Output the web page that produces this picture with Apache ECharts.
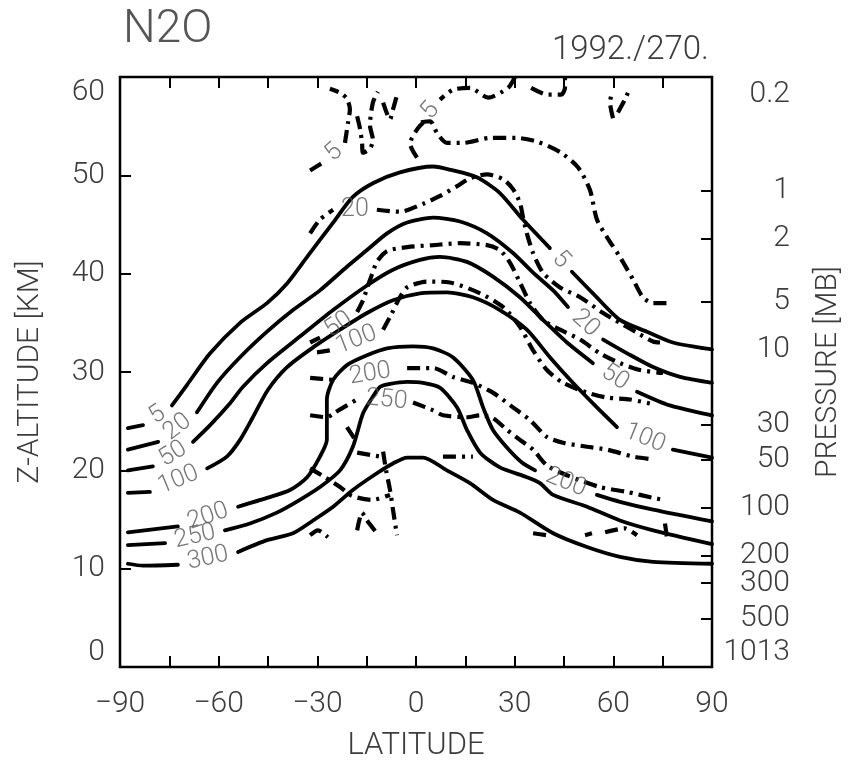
<!DOCTYPE html>
<html>
<head>
<meta charset="utf-8">
<script src="https://cdn.jsdelivr.net/npm/echarts@6/dist/echarts.min.js"></script>
<style>
  html, body { margin: 0; padding: 0; background: #fff; }
  #chart { width: 856px; height: 760px; }
</style>
</head>
<body>
<div id="chart"></div>
<script>
// ---- axes -------------------------------------------------------------
const latLabels = [-90, -60, -30, 0, 30, 60, 90];
const altLabels = [0, 10, 20, 30, 40, 50, 60];
const pressureLabels = [0.2, 1, 2, 5, 10, 30, 50, 100, 200, 300, 500, 1013];
const pressureTicks = [1, 2, 5, 10, 30, 50, 100, 200, 300, 500];
const SCALE_HEIGHT_KM = 7;

// ---- N2O mixing ratio contours, model (solid) --------------------------
// points are [latitude, altitude km]; null marks the gap holding the level label
const solidLevels = ['5', '20', '50', '100', '200', '250', '300'];

const solid5 = [[-87.6, 24.3], [-83.0, 24.6], null, [-74.2, 26.6], [-69.6, 28.7], [-62.6, 31.9],
  [-53.5, 35.0], [-45.3, 37.0], [-39.2, 39.0], [-33.1, 41.7], [-25.2, 45.2], [-19.2, 47.8],
  [-13.1, 49.2], [-4.9, 50.3], [5.2, 50.9], [11.2, 50.5], [18.5, 49.8], [25.5, 48.2],
  [32.5, 45.5], [40.7, 42.6], null, [47.4, 40.2], [53.8, 38.0], [62.0, 35.3], [70.2, 34.1],
  [78.1, 33.0], [90, 32.3]];

const solid20 = [[-87.6, 22.1], [-78.4, 22.9], null, [-66.6, 25.9], [-60.5, 28.9], [-53.5, 31.5],
  [-45.3, 34.1], [-37.4, 36.3], [-29.2, 38.3], [-21.0, 40.7], [-14.9, 42.4], [-8.8, 44.1],
  [-2.7, 45.2], [5.2, 45.7], [13.4, 45.3], [21.6, 44.1], [29.5, 42.1], [35.6, 40.1],
  [41.7, 38.3], [46.2, 36.6], null, [56.9, 33.3], [64.2, 31.9], [72.1, 30.5], [80.3, 29.5],
  [90, 28.9]];

const solid50 = [[-87.6, 20.0], [-80.0, 20.4], null, [-67.8, 22.9], [-62.6, 24.6], [-56.6, 26.8],
  [-52.6, 28.5], [-45.3, 30.9], [-35.3, 33.6], [-25.2, 36.3], [-14.9, 38.8], [-7.0, 40.4],
  [1.2, 41.4], [7.3, 41.7], [15.5, 41.2], [23.4, 39.7], [31.6, 37.6], [38.6, 35.3],
  [45.9, 33.0], [53.8, 30.9], null, [67.2, 28.0], [77.2, 26.6], [90, 25.6]];

const solid100 = [[-87.6, 17.7], [-80.9, 17.8], null, [-63.5, 20.2], [-57.5, 21.4], [-53.5, 23.1],
  [-49.6, 25.4], [-45.0, 28.2], [-39.2, 30.5], [-31.3, 32.5], [-23.1, 34.3], [-14.9, 36.0],
  [-7.0, 37.3], [1.2, 38.0], [9.4, 38.1], [17.3, 37.6], [25.5, 36.3], [33.7, 34.3],
  [40.7, 31.5], [47.7, 28.9], [55.0, 26.4], [61.1, 24.4], null, [78.1, 22.1], [90, 21.3]];

const solid200 = [[-87.6, 13.7], [-72.4, 14.3], null, [-54.1, 16.3], [-45.3, 17.2], [-38.3, 18.0],
  [-33.1, 19.3], [-29.2, 21.4], [-27.1, 23.1], [-27.1, 27.2], [-25.2, 29.2], [-21.0, 30.7],
  [-14.9, 31.7], [-8.8, 32.4], [-0.9, 32.6], [5.2, 32.4], [11.2, 31.5], [17.3, 29.2],
  [20.4, 26.4], [23.4, 24.1], [27.7, 22.3], [32.2, 20.8], [36.2, 20.0], null, [55.0, 17.5],
  [62.0, 16.8], [72.1, 16.0], [90, 14.8]];

const solid250 = [[-87.6, 12.4], [-76.3, 12.6], null, [-58.1, 13.9], [-50.5, 14.6], [-42.3, 15.7],
  [-35.3, 17.0], [-29.2, 18.3], [-23.1, 20.0], [-19.2, 22.4], [-16.1, 25.8], [-13.1, 27.5],
  [-10.9, 28.5], [-7.9, 28.8], [-2.7, 29.0], [2.1, 28.9], [7.3, 28.4], [12.5, 26.4],
  [15.5, 24.1], [19.5, 21.8], [25.5, 20.3], [33.7, 19.3], [37.7, 18.7], [41.7, 17.5],
  [52.0, 16.3], [62.0, 14.9], [72.1, 13.9], [90, 12.5]];

const solid300 = [[-87.6, 10.5], [-83.0, 10.3], [-72.4, 10.4], null, [-54.1, 11.7], [-45.3, 12.9],
  [-37.4, 13.6], [-31.3, 14.9], [-25.2, 16.3], [-19.2, 18.0], [-11.9, 19.7], [-7.0, 20.7],
  [-2.7, 21.3], [2.1, 21.3], [9.4, 20.0], [16.4, 18.7], [23.4, 17.0], [31.6, 15.7],
  [41.7, 13.6], [52.0, 12.2], [62.0, 11.2], [72.1, 10.7], [90, 10.5]];

const solidLines = [solid5, solid20, solid50, solid100, solid200, solid250, solid300];

// ---- N2O contours, measured (dash-dot) --------------------------------
const dash5 = [[30.1, 60.0], [28.0, 58.9], [21.9, 57.9], [16.4, 58.9], [11.2, 58.7], [7.3, 57.7],
  null, [1.5, 55.4], [4.3, 55.5], [6.4, 54.3], [9.4, 53.3], [14.3, 53.3], [22.5, 53.8],
  [30.7, 53.8], [37.1, 53.4], [44.1, 52.3], [49.3, 50.8], [52.9, 48.5], [55.0, 45.5],
  [58.1, 43.7], [62.0, 41.7], [66.0, 39.4], [69.0, 37.6], [72.1, 37.0], [76.3, 37.0]];
const dash5West = [[-32.2, 50.5], [-28.3, 51.3], null, [-21.6, 53.3], [-20.7, 55.3], [-20.1, 56.7],
  [-21.0, 57.8], [-23.1, 58.4], [-26.2, 58.8]];
const dash20 = [[-32.2, 44.1], [-29.2, 45.5], [-25.2, 46.5], null, [-11.9, 46.5], [-4.9, 46.3],
  [2.1, 47.1], [7.3, 47.9], [12.5, 48.9], [16.4, 49.7], [21.6, 50.1], [26.5, 49.6], [29.5, 48.6],
  [31.6, 47.2], [32.5, 45.8], [33.7, 44.1], [35.6, 42.1], [38.6, 40.1], [43.8, 38.6],
  [49.9, 37.6], [56.9, 36.0], [62.0, 35.0], [67.2, 34.0], [72.1, 33.1], [74.2, 33.0]];
const dash50 = [[-32.2, 33.0], [-29.2, 33.5], null, [-17.9, 36.1], [-16.1, 37.3], [-14.9, 38.5],
  [-13.4, 39.9], [-11.9, 41.2], [-8.8, 42.3], [-2.7, 42.7], [5.2, 42.9], [13.4, 43.1],
  [21.6, 42.9], [25.5, 42.4], [28.6, 41.1], [31.6, 39.1], [34.7, 37.0], [38.6, 35.3],
  [43.8, 34.3], [49.9, 33.3], [55.9, 31.9], [62.0, 30.9], [68.1, 30.2], [75.1, 29.9]];
const dash100 = [[-30.1, 32.0], [-26.2, 32.2], null, [-10.0, 34.3], [-7.9, 35.6], [-4.9, 37.6],
  [-2.7, 38.6], [3.3, 39.2], [10.3, 39.1], [19.5, 38.0], [26.5, 36.6], [31.6, 34.6],
  [35.6, 32.2], [39.8, 30.2], [44.7, 28.9], [52.0, 27.9], [58.1, 27.4], [65.1, 27.2],
  [71.1, 26.8]];
const dash200 = [[-32.2, 29.4], [-25.2, 29.2], null, [-2.7, 30.4], [5.2, 30.4], [11.2, 29.5],
  [17.3, 28.9], [23.4, 27.9], [29.5, 26.4], [34.7, 25.1], [39.8, 23.4], [44.7, 22.8],
  [52.0, 22.4], [58.1, 22.1], [66.0, 21.4], [72.1, 21.1]];
const dash250 = [[-32.2, 25.6], [-27.1, 25.4], [-24.6, 25.9], [-21.0, 26.6], [-17.0, 27.4], null,
  [-0.9, 26.9], [5.2, 26.1], [8.2, 25.6], [15.5, 25.4], [19.5, 25.6], [23.4, 25.3], [27.7, 24.1],
  [31.6, 23.1], [35.6, 22.1], [39.8, 20.5], [45.9, 19.5], [55.9, 18.3], [64.2, 17.8],
  [72.1, 17.2], [75.1, 17.0]];
const dashLevels = ['5', '5', '20', '50', '100', '200', '250'];
const dashLines = [dash5, dash5West, dash20, dash50, dash100, dash200, dash250];

// unlabelled scraps of the measured field (noisy upper and lower edges)
const dashScraps = [
  [[35.0, 58.9], [40.1, 58.2], [44.1, 58.2], [45.3, 58.9], [45.3, 59.9]],
  [[59.9, 55.8], [59.0, 57.4], [59.6, 58.5]],
  [[61.4, 56.4], [63.5, 57.7], [65.1, 58.9]],
  [[-17.9, 56.0], [-17.0, 54.7], [-16.4, 53.3], [-16.1, 52.3], [-14.0, 52.7], [-13.1, 53.6],
   [-14.0, 55.1], [-13.1, 57.4], [-11.6, 58.5]],
  [[-10.0, 57.4], [-7.9, 55.7], [-7.0, 56.7], [-5.5, 58.5]],
  [[0.3, 51.8], [-1.8, 53.2], [0.6, 54.8], [3.3, 55.7]],
  [[-17.9, 21.8], [-10.9, 21.4]],
  [[8.2, 21.4], [17.3, 21.4]],
  [[-32.2, 20.2], [-27.7, 19.3], [-23.1, 18.3], [-19.5, 17.4], [-13.4, 17.0], [-7.9, 17.5]],
  [[-10.0, 21.9], [-9.1, 20.0], [-7.9, 18.0], [-7.0, 16.0], [-5.8, 13.4]],
  [[-17.9, 13.9], [-16.4, 15.7], [-14.9, 14.9], [-11.9, 13.6]],
  [[-32.2, 13.4], [-29.8, 13.9], [-26.8, 13.2]],
  [[-21.0, 24.4], [-17.9, 22.8]],
  [[35.6, 13.6], [39.8, 13.4]],
  [[51.4, 13.4], [53.5, 13.6]],
  [[57.5, 13.7], [63.5, 14.1], [67.2, 13.4]],
  [[75.7, 14.6], [76.3, 13.2]]
];

// ---- drawing -----------------------------------------------------------
const FONT = 'Roboto';
const INK = '#3c3c3c';
const altOf = p => SCALE_HEIGHT_KM * Math.log(1013 / p);

const chart = echarts.init(document.getElementById('chart'), null, { renderer: 'canvas' });

const solidStyle = { color: '#000', width: 3.8, type: 'solid', cap: 'round', join: 'round' };
const dashStyle = { color: '#000', width: 4.2, type: [13, 6, 3, 6] };

function lineSeries(points, style) {
  return {
    type: 'line',
    data: points.map(p => (p === null ? '-' : p)),
    showSymbol: false,
    symbol: 'none',
    smooth: 0.25,
    connectNulls: false,
    lineStyle: style,
    silent: true,
    animation: false,
    z: 3
  };
}

const series = [];
solidLines.forEach(l => series.push(lineSeries(l, solidStyle)));
dashLines.forEach(l => series.push(lineSeries(l, dashStyle)));
dashScraps.forEach(l => series.push(lineSeries(l, dashStyle)));

const axisLabelFont = { fontFamily: FONT, fontWeight: 300, fontSize: 30, color: INK };
const tickStyle = { inside: true, length: 11, lineStyle: { color: '#000', width: 2 } };
const noLine = { show: false, onZero: false };

const option = {
  animation: false,
  backgroundColor: '#fff',
  title: [
    { text: 'N2O', left: 118, top: 2,
      textStyle: { fontFamily: FONT, fontWeight: 300, fontSize: 46, color: '#555' } },
    { text: '1992./270.', right: 142, top: 29,
      textStyle: { fontFamily: FONT, fontWeight: 300, fontSize: 33, color: INK } }
  ],
  grid: { left: 120, right: 144, top: 77, bottom: 93, show: true,
          containLabel: false, outerBoundsMode: 'none',
          borderColor: '#000', borderWidth: 2.5, backgroundColor: 'transparent' },
  xAxis: [
    { type: 'value', min: -90, max: 90, interval: 15, position: 'bottom',
      name: 'LATITUDE', nameLocation: 'middle', nameGap: 64,
      nameTextStyle: { fontFamily: FONT, fontWeight: 300, fontSize: 31, color: INK },
      axisLine: noLine, axisTick: tickStyle, splitLine: { show: false },
      axisLabel: Object.assign({ margin: 22,
        formatter: v => (latLabels.indexOf(v) >= 0 ? String(v).replace('-', '\u2212') : '') },
        axisLabelFont) },
    { type: 'value', min: -90, max: 90, interval: 15, position: 'top',
      axisLine: noLine, axisTick: tickStyle, splitLine: { show: false },
      axisLabel: { show: false } }
  ],
  yAxis: [
    { type: 'value', min: 0, max: 60, interval: 10, position: 'left',
      name: 'Z-ALTITUDE [KM]', nameLocation: 'middle', nameGap: 75,
      nameTextStyle: { fontFamily: FONT, fontWeight: 300, fontSize: 30, color: INK },
      axisLine: noLine, axisTick: tickStyle, splitLine: { show: false },
      axisLabel: Object.assign({ margin: 15,
        formatter: v => (altLabels.indexOf(v) >= 0 ? String(v) : ''),
        verticalAlignMinLabel: 'bottom', verticalAlignMaxLabel: 'top' }, axisLabelFont) },
    { type: 'value', min: 0, max: 60, position: 'right',
      name: 'PRESSURE [MB]', nameLocation: 'middle', nameGap: 101,
      nameTextStyle: { fontFamily: FONT, fontWeight: 300, fontSize: 30, color: INK },
      axisLine: noLine,
      axisTick: Object.assign({ customValues: pressureTicks.map(altOf).sort((a, b) => a - b) },
        tickStyle),
      splitLine: { show: false },
      axisLabel: Object.assign({ margin: 78, align: 'right',
        customValues: pressureLabels.map(altOf).sort((a, b) => a - b),
        verticalAlignMinLabel: 'bottom', verticalAlignMaxLabel: 'top',
        formatter: v => {
          let best = pressureLabels[0], d = Infinity;
          pressureLabels.forEach(p => { const e = Math.abs(altOf(p) - v); if (e < d) { d = e; best = p; } });
          return String(best);
        } }, axisLabelFont) }
  ],
  series: series
};

chart.setOption(option);

// contour level labels sit in the gaps, turned along the line
function gapLabels(lines, levels) {
  const items = [];
  lines.forEach((line, k) => {
    line.forEach((p, i) => {
      if (p !== null) return;
      const a = line[i - 1], b = line[i + 1];
      const pa = chart.convertToPixel({ gridIndex: 0 }, a);
      const pb = chart.convertToPixel({ gridIndex: 0 }, b);
      let ang = Math.atan2(-(pb[1] - pa[1]), pb[0] - pa[0]) * 180 / Math.PI;
      if (ang > 90) ang -= 180;
      if (ang < -90) ang += 180;
      items.push({ value: [(a[0] + b[0]) / 2, (a[1] + b[1]) / 2],
                   label: { formatter: levels[k], rotate: ang } });
    });
  });
  return items;
}

const labelSeries = {
  type: 'scatter',
  symbolSize: 0,
  silent: true,
  z: 5,
  label: { show: true, position: 'inside', fontFamily: FONT, fontWeight: 300,
           fontSize: 25, color: '#555' },
  data: gapLabels(solidLines, solidLevels).concat(gapLabels(dashLines, dashLevels))
};

chart.setOption({ series: series.concat([labelSeries]) });
</script>
</body>
</html>
